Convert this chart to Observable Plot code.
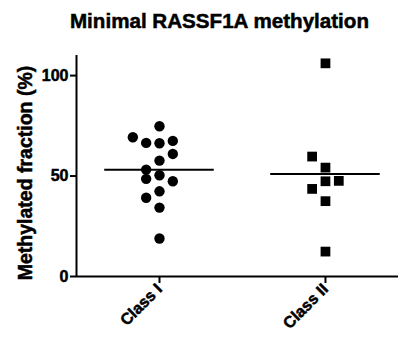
<!DOCTYPE html>
<html><head><meta charset="utf-8">
<script src="https://cdn.jsdelivr.net/npm/d3@7"></script>
<script src="https://cdn.jsdelivr.net/npm/@observablehq/plot@0.6"></script>
<style>
body{margin:0;background:#fff;font-family:"Liberation Sans",Arial,sans-serif;}
#title{width:398px;height:40px;box-sizing:border-box;padding-top:9px;padding-left:41px;text-align:center;font-size:20.6px;font-weight:bold;line-height:normal;color:#000;white-space:nowrap;-webkit-text-stroke:0.5px #000;}
#chart svg text{font-weight:bold;font-family:"Liberation Sans",Arial,sans-serif;stroke:#000;stroke-width:0.5px;}
#chart svg g[aria-label$="tick label"] text{font-size:16px;font-weight:bold;}
</style></head><body>
<div id="title">Minimal RASSF1A methylation</div>
<div id="chart"></div>
<script>
const categories = ["Class I", "Class II"];
const classIValues = [74.8, 69.3, 66.5, 66.3, 67.5, 61.0, 57.7, 53.2, 48.6, 50.4, 47.4, 42.4, 39.2, 34.3, 18.9];
const classIColumns = [0, -2, -1, 0, 1, 1, 0, -1, -1, 0, 1, 0, -1, 0, 0];
const classIIValues = [106.1, 59.7, 54.2, 47.4, 47.6, 43.6, 37.5, 12.4];
const classIIColumns = [0, -1, 0, 0, 1, -1, 0, 0];
const yTicks = [0, 50, 100];
const yLabel = "Methylated fraction (%)";

const colStep = 0.0803;
const pts1 = classIValues.map((v, i) => ({x: 1 + classIColumns[i] * colStep, y: v}));
const pts2 = classIIValues.map((v, i) => ({x: 2 + classIIColumns[i] * colStep, y: v}));
const means = [{c: 1, m: d3.mean(classIValues)}, {c: 2, m: d3.mean(classIIValues)}];

const font = "'Liberation Sans', Arial, sans-serif";
const chart = Plot.plot({
  width: 398, height: 300,
  marginTop: 15, marginBottom: 64, marginLeft: 76, marginRight: 0,
  x: {domain: [0.5, 2.44]},
  y: {domain: [0, 110]},
  style: {fontFamily: font, fontSize: "15px", fontWeight: "bold", color: "black", background: "white"},
  marks: [
    Plot.ruleY([0], {strokeWidth: 2}),
    Plot.ruleX([0.5], {y1: 0, y2: 110, strokeWidth: 2}),
    Plot.axisY({ticks: yTicks, tickSize: 6, tickPadding: 2, label: null, strokeWidth: 2, fontSize: 16, fontWeight: "bold"}),
    Plot.axisX({ticks: [1, 2], tickFormat: d => categories[d - 1], tickSize: 7, tickPadding: 3, tickRotate: -45, label: null, strokeWidth: 2, fontSize: 16, fontWeight: "bold"}),
    Plot.ruleY(means, {y: "m", x1: d => d.c - 0.33, x2: d => d.c + 0.33, strokeWidth: 2}),
    Plot.dot(pts1, {x: "x", y: "y", r: 5.2, fill: "black", symbol: "circle"}),
    Plot.dot(pts2, {x: "x", y: "y", r: 5.5, fill: "black", symbol: "square"}),
    Plot.text([yLabel], {text: d => d, frameAnchor: "left", textAnchor: "middle", rotate: -90, dx: -45, dy: 7, lineAnchor: "bottom", fontSize: 19.5, fontWeight: "bold"})
  ]
});
document.getElementById("chart").appendChild(chart);
</script>
</body></html>
